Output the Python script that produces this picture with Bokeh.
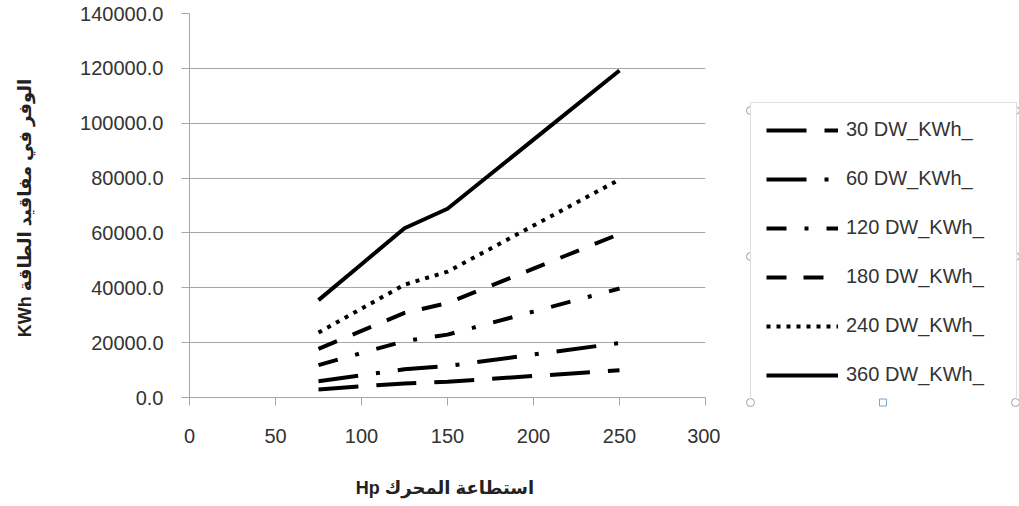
from bokeh.plotting import figure
from bokeh.layouts import row
from bokeh.models import Legend, LegendItem, NumeralTickFormatter, FixedTicker, Range1d
from bokeh.embed import file_html
from bokeh.resources import INLINE

# ---- data ----
hp = [75, 100, 125, 150, 200, 250]
dw_30 = [2960, 4050, 5140, 5730, 7830, 9930]
dw_60 = [5920, 8100, 10280, 11470, 15670, 19870]
dw_120 = [11830, 16200, 20570, 22930, 31330, 39730]
dw_180 = [17750, 24300, 30850, 34400, 47000, 59600]
dw_240 = [23670, 32400, 41130, 45870, 62670, 79470]
dw_360 = [35500, 48600, 61700, 68800, 94000, 119200]

series_names = ["30 DW_KWh_", "60 DW_KWh_", "120 DW_KWh_", "180 DW_KWh_", "240 DW_KWh_", "360 DW_KWh_"]
series_values = [dw_30, dw_60, dw_120, dw_180, dw_240, dw_360]
dashes = ["40 18", "40 18 4 18", "20 18 4 18", "20 17", "4 6", "solid"]

x_ticks = [0, 50, 100, 150, 200, 250, 300]
y_ticks = [0, 20000, 40000, 60000, 80000, 100000, 120000, 140000]

x_title = "Hp  استطاعة المحرك"
y_title = "KWh  الوفر في مفاقيد الطاقة"

FONT = "Liberation Sans, DejaVu Sans, Arial, sans-serif"
BORDER_TOP, BORDER_BOTTOM = 13, 109

# ---- main chart ----
p = figure(width=720, height=506, output_backend="svg", toolbar_location=None,
           x_range=Range1d(0, 300), y_range=Range1d(0, 140000),
           min_border_left=189, min_border_right=15,
           min_border_top=BORDER_TOP, min_border_bottom=BORDER_BOTTOM)
p.outline_line_color = None
p.background_fill_color = "white"
p.border_fill_color = "white"

p.xgrid.grid_line_color = None
p.ygrid.grid_line_color = "#A6A6A6"
p.ygrid.grid_line_width = 1

for ax in (p.xaxis[0], p.yaxis[0]):
    ax.axis_line_color = "#A6A6A6"
    ax.major_tick_line_color = "#A6A6A6"
    ax.major_tick_out = 8
    ax.major_tick_in = 0
    ax.minor_tick_line_color = None
    ax.major_label_text_font = FONT
    ax.major_label_text_font_size = "20px"
    ax.major_label_text_color = "#333333"
    ax.axis_label_text_font = FONT
    ax.axis_label_text_font_size = "18px"
    ax.axis_label_text_font_style = "bold"
    ax.axis_label_text_color = "#222222"

p.xaxis.ticker = FixedTicker(ticks=x_ticks)
p.yaxis.ticker = FixedTicker(ticks=y_ticks)
p.yaxis.formatter = NumeralTickFormatter(format="0.0")
p.xaxis.major_label_standoff = 23
p.yaxis.major_label_standoff = 18
p.xaxis.axis_label = x_title
p.yaxis.axis_label = y_title
p.xaxis.axis_label_standoff = 32
p.yaxis.axis_label_standoff = 42

for name, vals, dash in zip(series_names, series_values, dashes):
    p.line(hp, vals, line_color="black", line_width=4, line_dash=dash, line_cap="butt")

# ---- legend panel (its frame is aligned with the chart frame: 384 px tall) ----
LW = 299
FH = 506 - BORDER_TOP - BORDER_BOTTOM
q = figure(width=LW, height=506, output_backend="svg", toolbar_location=None,
           x_range=Range1d(0, LW), y_range=Range1d(0, FH),
           x_axis_type=None, y_axis_type=None,
           min_border_left=0, min_border_right=0,
           min_border_top=BORDER_TOP, min_border_bottom=BORDER_BOTTOM)
q.outline_line_color = None
q.background_fill_color = "white"
q.border_fill_color = "white"

box_left, box_right, box_bottom = 30, 295, -5
box_height = 292
box_top = box_bottom + box_height

items = []
for name, vals, dash in zip(series_names, series_values, dashes):
    r = q.line(hp, vals, line_color="black", line_width=4, line_dash=dash, line_cap="butt", visible=False)
    items.append(LegendItem(label=name, renderers=[r]))

legend = Legend(items=items, location=(box_left, box_bottom),
                glyph_width=72, glyph_height=22, label_height=22, label_width=155,
                label_standoff=8, spacing=26, padding=15, margin=0,
                label_text_font=FONT, label_text_font_size="20px", label_text_color="#333333",
                border_line_color="#BFBFBF", border_line_width=1,
                background_fill_color="white", background_fill_alpha=1.0)
q.add_layout(legend)

# selection handles of the legend box
box_mid_x = (box_left + box_right) / 2
box_mid_y = (box_bottom + box_top) / 2
q.scatter([box_left, box_right, box_left, box_right, box_left, box_right],
          [box_top, box_top, box_bottom, box_bottom, box_mid_y, box_mid_y],
          marker="circle", size=8, fill_color="white", line_color="#A0A0A0", level="overlay")
q.scatter([box_mid_x, box_mid_x], [box_top, box_bottom],
          marker="square", size=7, fill_color="white", line_color="#7FA3C8", level="overlay")

layout = row(p, q)
open("out.html", "w").write(file_html(layout, INLINE))
